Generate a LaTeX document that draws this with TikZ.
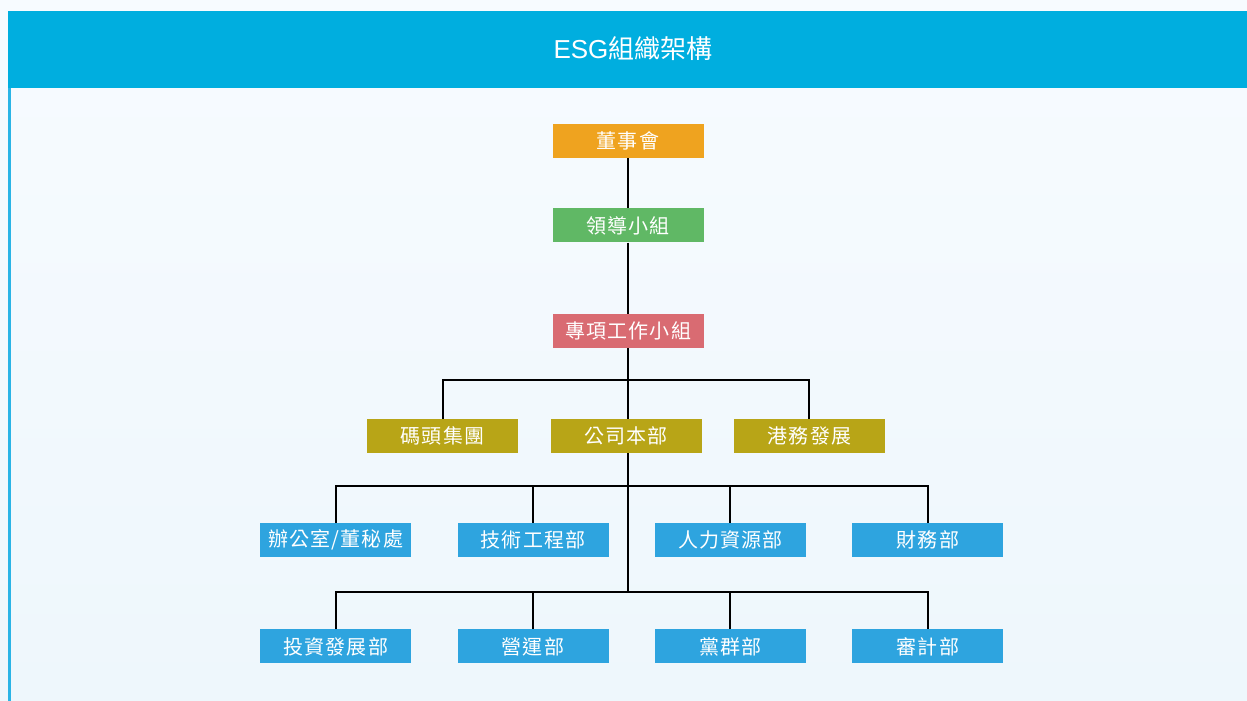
\documentclass[tikz,border=0pt]{standalone}
\usepackage{fontspec}
\setmainfont{Noto Sans CJK TC}
\newfontfamily\latinfont{Liberation Sans}
\usepackage{tikz}
\usetikzlibrary{positioning}

\definecolor{headblue}{HTML}{00AEDF}
\definecolor{edgeblue}{HTML}{2AB4E6}
\definecolor{bgtop}{HTML}{F7FBFF}
\definecolor{bgbot}{HTML}{EEF7FC}
\definecolor{boardorange}{HTML}{EFA31F}
\definecolor{leadgreen}{HTML}{60B865}
\definecolor{taskred}{HTML}{D96B72}
\definecolor{unitolive}{HTML}{B8A517}
\definecolor{deptblue}{HTML}{2EA4DF}

\begin{document}
\begin{tikzpicture}[x=1pt,y=-1pt]
	\tikzstyle{box}=[rectangle, minimum width=151pt, minimum height=34pt, inner sep=0pt, text=white, font=\fontsize{20pt}{20pt}\selectfont\addfontfeatures{LetterSpace=6}]
	\tikzstyle{unit}=[box, fill=unitolive]
	\tikzstyle{dept}=[box, fill=deptblue]
	\tikzstyle{connect}=[draw=black, line width=2pt]
	% frame
	\useasboundingbox (0,0) rectangle (1247,701);
	\fill[top color=bgtop, bottom color=bgbot] (0,0) rectangle (1247,701);
	\fill[headblue] (8,11) rectangle (1247,88);
	\fill[edgeblue] (8,88) rectangle (10.5,701);
	\node[text=white, font=\fontsize{26pt}{26pt}\selectfont] (title) at (633,49) {{\latinfont ESG}組織架構};
	% top chain
	\node[box, fill=boardorange] (dsh) at (628,141) {董事會};
	\node[box, fill=leadgreen] (ldxz) [below=50pt of dsh] {領導小組};
	\node[box, fill=taskred] (zxxz) [below=71pt of ldxz] {專項工作小組};
	\node[unit] (gsbb) [below=71pt of zxxz, xshift=-2pt] {公司本部};
	\node[unit] (mtjt) [left=32pt of gsbb] {碼頭集團};
	\node[unit] (gwfz) [right=32pt of gsbb] {港務發展};
	% departments
	\node[dept] (jsgc) at (533,540) {技術工程部};
	\node[dept] (bgs) [left=46pt of jsgc] {辦公室/董秘處};
	\node[dept] (rlzy) [right=46pt of jsgc] {人力資源部};
	\node[dept] (cwb) [right=46pt of rlzy] {財務部};
	\node[dept] (tzfz) [below=72pt of bgs] {投資發展部};
	\node[dept] (yyb) [below=72pt of jsgc] {營運部};
	\node[dept] (dqb) [below=72pt of rlzy] {黨群部};
	\node[dept] (sjb) [below=72pt of cwb] {審計部};
	% buses
	\coordinate (bus3) at (628,380);
	\coordinate (bus4) at (628,486);
	\coordinate (bus5) at (628,592);
	\path (dsh) edge [connect] (ldxz)
	(ldxz) edge [connect] (zxxz);
	\draw[connect] (zxxz.south) -- (bus3);
	\draw[connect] (mtjt.north) |- (bus3) -| (gwfz.north);
	\draw[connect] (bus3) -- (bus3 |- gsbb.north);
	\draw[connect] (bus4 |- gsbb.south) -- (bus5);
	\draw[connect] (bgs.north) |- (bus4) -| (cwb.north);
	\draw[connect] (jsgc.north) -- (jsgc.north |- bus4);
	\draw[connect] (rlzy.north) -- (rlzy.north |- bus4);
	\draw[connect] (tzfz.north) |- (bus5) -| (sjb.north);
	\draw[connect] (yyb.north) -- (yyb.north |- bus5);
	\draw[connect] (dqb.north) -- (dqb.north |- bus5);
\end{tikzpicture}
\end{document}
